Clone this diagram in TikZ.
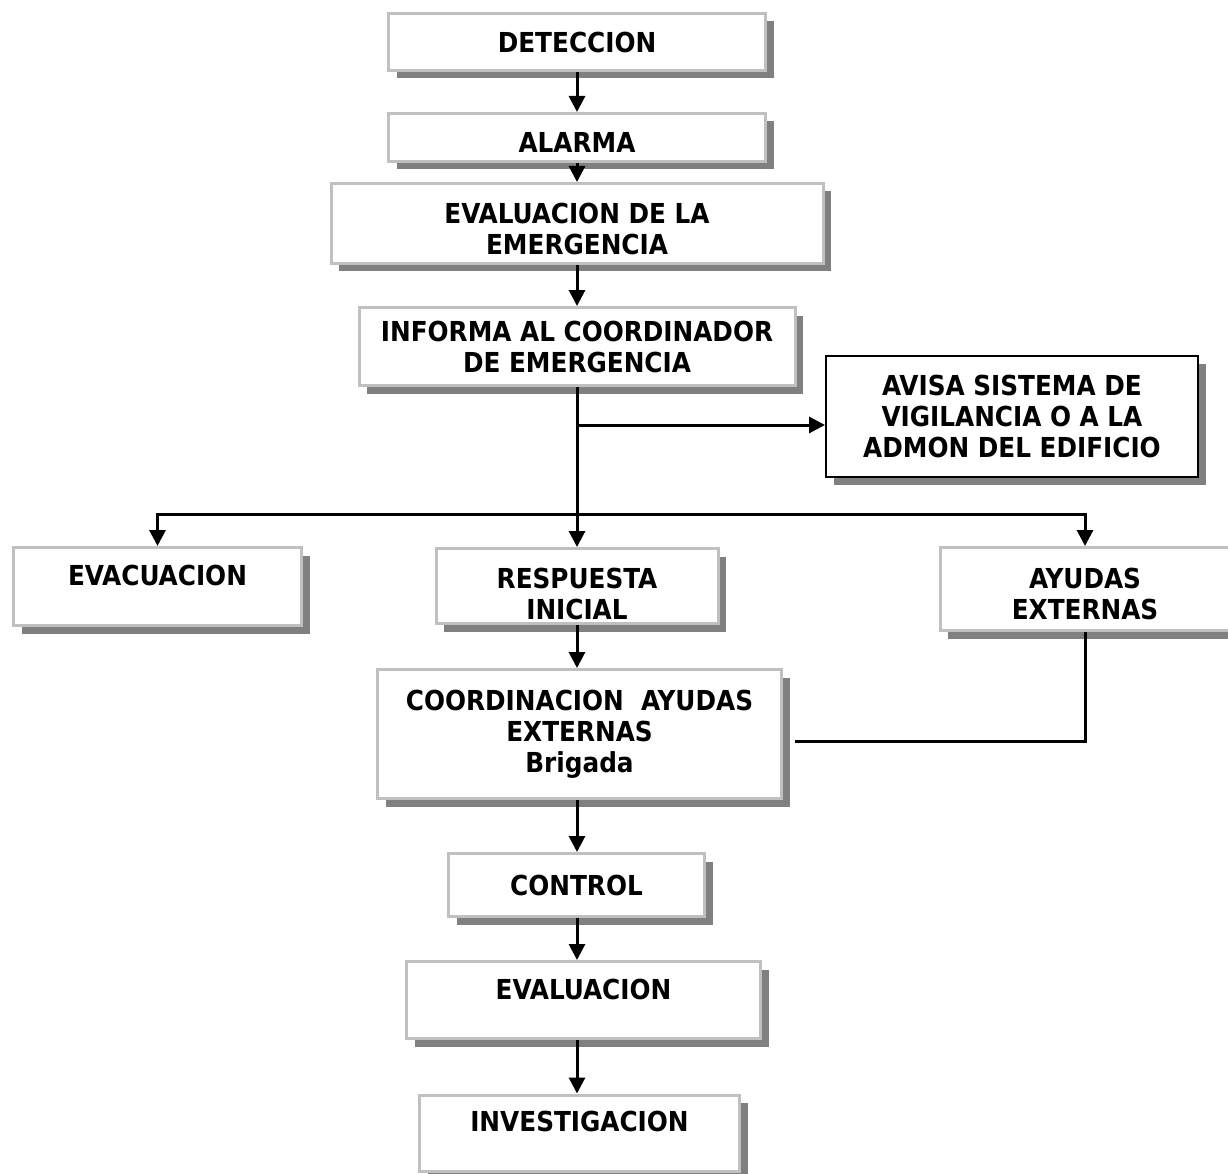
\documentclass[tikz,border=0pt]{standalone}
\usepackage{fontspec}
\setmainfont{DejaVu Sans Condensed}
\usepackage{tikz}
\usetikzlibrary{positioning,calc,shadows}
\usetikzlibrary{arrows.meta}

\definecolor{framegray}{HTML}{C0C0C0}
\definecolor{shadegray}{HTML}{808080}

\tikzset{
  stage/.style={rectangle,draw=framegray,line width=3pt,fill=white,inner sep=0pt,
    drop shadow={shadow xshift=8pt,shadow yshift=-8pt,fill=shadegray,opacity=1},
    font=\fontsize{27.5}{31}\selectfont\bfseries},
  notice/.style={stage,draw=black,line width=2pt},
  link/.style={draw,line width=3pt},
  arr/.style={link,-{Triangle[length=16pt,width=16pt]}}
}
\newcommand{\lift}[1]{\rule{0pt}{#1}}

\begin{document}
\begin{tikzpicture}[x=1pt,y=-1pt]
\useasboundingbox (0,0) rectangle (1228,1174);
        \node[stage,minimum width=377,minimum height=57] (det) at (577,42) {DETECCION};
        \node[stage,minimum width=377,minimum height=48,text height=30pt] (alarm) at (577,137.5) {ALARMA};
        \node[stage,minimum width=492,minimum height=80,align=center] (evalem) at (577,223.5) {\lift{31pt}EVALUACION DE LA\\EMERGENCIA};
        \node[stage,minimum width=436,minimum height=78,align=center] (inform) at (577,346.5) {INFORMA AL COORDINADOR\\DE EMERGENCIA};
        \node[notice,minimum width=372,minimum height=121,align=center] (avisa) at (1012,416.5) {AVISA SISTEMA DE\\VIGILANCIA O A LA\\ADMON DEL EDIFICIO};
        \node[stage,minimum width=288,minimum height=78,text depth=22pt] (evac) at (157.5,586.5) {EVACUACION};
        \node[stage,minimum width=282,minimum height=75,align=center] (resp) at (577,586) {\lift{37pt}RESPUESTA\\INICIAL};
        \node[stage,minimum width=290,minimum height=83,align=center] (ayudas) at (1085,589) {\lift{31pt}AYUDAS\\EXTERNAS};
        \node[stage,minimum width=404,minimum height=129,align=center] (coord) at (579.5,734) {COORDINACION~~AYUDAS\\EXTERNAS\\Brigada};
        \node[stage,minimum width=256,minimum height=63] (control) at (576.5,885) {CONTROL};
        \node[stage,minimum width=354,minimum height=77,text depth=22pt] (evalf) at (583.5,1000) {EVALUACION};
        \node[stage,minimum width=320,minimum height=76,text depth=24pt] (invest) at (579.5,1133) {INVESTIGACION};

        % trunk
        \coordinate (split) at (577,425);
        \coordinate (fork) at (577,514);
        \coordinate (back) at (795,741);
        \draw[arr] (det) -- (alarm);
        \draw[arr] (alarm) -- (evalem);
        \draw[arr] (evalem) -- (inform);
        \draw[arr] (inform) -- (inform |- resp.north);
        \draw[arr] (split) -- (split -| avisa.west);
        \draw[arr] (fork) -| (evac.north);
        \draw[arr] (fork) -| (ayudas.north);
        \draw[arr] (resp) -- (resp |- coord.north);
        \draw[link] (ayudas.south) |- (back);
        \draw[arr] (coord.south -| resp) -- (resp |- control.north);
        \draw[arr] (control.south -| resp) -- (resp |- evalf.north);
        \draw[arr] (evalf.south -| resp) -- (resp |- invest.north);
\end{tikzpicture}
\end{document}
